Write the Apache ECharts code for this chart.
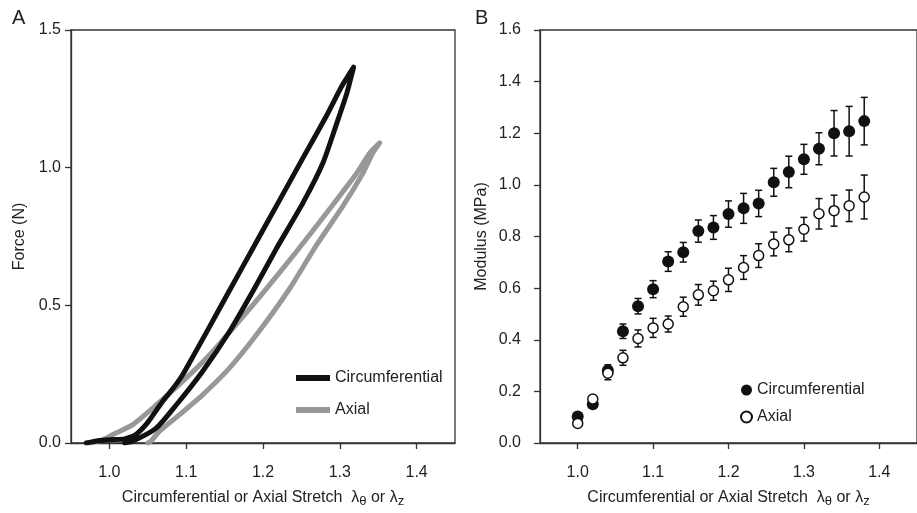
<!DOCTYPE html>
<html>
<head>
<meta charset="utf-8">
<script src="https://cdn.jsdelivr.net/npm/echarts@6/dist/echarts.min.js"></script>
<style>
  html, body { margin: 0; padding: 0; background: #fff; }
  #chart { width: 917px; height: 513px; }
</style>
</head>
<body>
<div id="chart"></div>
<script>
// Panel A: force vs stretch loops, [stretch, force]
const circLoop = [
  [0.970, 0.0], [0.985, 0.008], [1.000, 0.012], [1.020, 0.015], [1.034, 0.030],
  [1.050, 0.075], [1.069, 0.150], [1.082, 0.195], [1.095, 0.246], [1.110, 0.320],
  [1.126, 0.400], [1.158, 0.562], [1.191, 0.728], [1.222, 0.884],
  [1.253, 1.040], [1.282, 1.185], [1.302, 1.293], [1.318, 1.365],
  [1.309, 1.269], [1.296, 1.161], [1.278, 1.017], [1.252, 0.872], [1.217, 0.704],
  [1.189, 0.562], [1.156, 0.403], [1.121, 0.259], [1.087, 0.138], [1.061, 0.054],
  [1.030, 0.006], [1.020, 0.0]
];
const axialLoop = [
  [0.974, 0.0], [0.990, 0.010], [1.004, 0.030], [1.030, 0.066], [1.061, 0.138],
  [1.095, 0.223], [1.130, 0.319], [1.165, 0.430], [1.200, 0.545], [1.245, 0.700],
  [1.290, 0.862], [1.322, 0.980], [1.339, 1.053], [1.352, 1.090],
  [1.343, 1.053], [1.330, 0.980], [1.304, 0.860], [1.269, 0.716], [1.235, 0.562],
  [1.191, 0.391], [1.156, 0.271], [1.121, 0.174], [1.091, 0.102], [1.065, 0.042],
  [1.054, 0.006], [1.050, 0.0]
];

// Panel B: modulus (MPa) with error bars
const stretch = [1.00, 1.02, 1.04, 1.06, 1.08, 1.10, 1.12, 1.14, 1.16, 1.18,
                 1.20, 1.22, 1.24, 1.26, 1.28, 1.30, 1.32, 1.34, 1.36, 1.38];
const circModulus = [0.103, 0.150, 0.281, 0.433, 0.530, 0.596, 0.703, 0.739, 0.821, 0.835,
                     0.887, 0.909, 0.928, 1.010, 1.050, 1.099, 1.140, 1.200, 1.208, 1.247];
const circErr = [0.012, 0.012, 0.022, 0.028, 0.030, 0.033, 0.038, 0.038, 0.043, 0.046,
                 0.051, 0.058, 0.051, 0.054, 0.061, 0.058, 0.062, 0.088, 0.096, 0.092];
const axialModulus = [0.076, 0.170, 0.270, 0.330, 0.405, 0.446, 0.461, 0.528, 0.574, 0.590,
                      0.632, 0.680, 0.726, 0.771, 0.787, 0.828, 0.888, 0.900, 0.919, 0.953];
const axialErr = [0.010, 0.010, 0.025, 0.029, 0.033, 0.037, 0.031, 0.037, 0.040, 0.037,
                  0.045, 0.046, 0.046, 0.046, 0.046, 0.046, 0.059, 0.060, 0.061, 0.085];

const xTicks = [1.0, 1.1, 1.2, 1.3, 1.4];

const FONT = 'Liberation Sans, Arial, sans-serif';
const INK = '#222';
const AXIS = '#333';

const chart = echarts.init(document.getElementById('chart'));

const fmt = v => v.toFixed(1);

const stretchName = '{t|Circumferential or Axial Stretch  λ}{s|θ}{t| or λ}{s|z}';
const stretchNameStyle = {
  rich: {
    t: { fontFamily: FONT, fontSize: 16, lineHeight: 20, color: INK },
    s: { fontFamily: FONT, fontSize: 13, lineHeight: 10, verticalAlign: 'bottom', color: INK }
  }
};

function xAxisFor(gridIndex) {
  return {
    type: 'value',
    gridIndex,
    min: 0.95,
    max: 1.45,
    name: stretchName,
    nameLocation: 'middle',
    nameGap: 45,
    nameTextStyle: stretchNameStyle,
    axisLine: { lineStyle: { color: AXIS, width: 1.3 } },
    axisTick: { length: 6, customValues: xTicks, lineStyle: { color: AXIS, width: 1.3 } },
    axisLabel: { customValues: xTicks, formatter: fmt, margin: 22, fontFamily: FONT, fontSize: 16, color: INK },
    splitLine: { show: false }
  };
}

function yAxisFor(gridIndex, max, interval, name, nameGap, margin) {
  return {
    type: 'value',
    gridIndex,
    min: 0,
    max,
    interval,
    name,
    nameLocation: 'middle',
    nameGap,
    nameTextStyle: { fontFamily: FONT, fontSize: 16, color: INK },
    axisLine: { show: true, lineStyle: { color: AXIS, width: 1.3 } },
    axisTick: { show: true, length: 6, lineStyle: { color: AXIS, width: 1.3 } },
    axisLabel: { formatter: fmt, margin, fontFamily: FONT, fontSize: 16, color: INK },
    splitLine: { show: false }
  };
}

const errorBar = (x, lo, hi) => [x, lo, hi];
const circBars = stretch.map((x, i) => errorBar(x, circModulus[i] - circErr[i], circModulus[i] + circErr[i]));
const axialBars = stretch.map((x, i) => errorBar(x, axialModulus[i] - axialErr[i], axialModulus[i] + axialErr[i]));

function renderErrorBar(params, api) {
  const x = api.value(0);
  const lo = api.coord([x, api.value(1)]);
  const hi = api.coord([x, api.value(2)]);
  const cap = 3.5;
  const style = { stroke: '#111', lineWidth: 1.5 };
  return {
    type: 'group',
    children: [
      { type: 'line', shape: { x1: lo[0], y1: lo[1], x2: hi[0], y2: hi[1] }, style },
      { type: 'line', shape: { x1: hi[0] - cap, y1: hi[1], x2: hi[0] + cap, y2: hi[1] }, style },
      { type: 'line', shape: { x1: lo[0] - cap, y1: lo[1], x2: lo[0] + cap, y2: lo[1] }, style }
    ]
  };
}

const option = {
  animation: false,
  backgroundColor: '#fff',
  title: [
    { text: 'A', left: 7, top: 3, textStyle: { fontFamily: FONT, fontSize: 20, fontWeight: 'normal', color: INK } },
    { text: 'B', left: 470, top: 3, textStyle: { fontFamily: FONT, fontSize: 20, fontWeight: 'normal', color: INK } }
  ],
  grid: [
    { left: 71, top: 30, right: 462, bottom: 67, show: true, borderColor: AXIS, borderWidth: 1.3 },
    { left: 540, top: 30, right: -4, bottom: 67, show: true, borderColor: AXIS, borderWidth: 1.3 }
  ],
  legend: [
    {
      data: ['Circumferential', 'Axial'],
      orient: 'vertical',
      left: 296,
      top: 370,
      padding: 0,
      icon: 'rect',
      itemWidth: 34,
      itemHeight: 6,
      itemGap: 16,
      itemTextGap: 5,
      selectedMode: false,
      textStyle: { fontFamily: FONT, fontSize: 16, color: INK }
    },
    {
      data: ['Circumferential modulus', 'Axial modulus'],
      orient: 'vertical',
      left: 740,
      top: 382,
      padding: 0,
      icon: 'circle',
      itemWidth: 11,
      itemHeight: 11,
      itemGap: 11,
      itemTextGap: 6,
      selectedMode: false,
      formatter: name => name.replace(' modulus', ''),
      textStyle: { fontFamily: FONT, fontSize: 16, color: INK }
    }
  ],
  xAxis: [xAxisFor(0), xAxisFor(1)],
  yAxis: [
    yAxisFor(0, 1.5, 0.5, 'Force (N)', 43, 10),
    yAxisFor(1, 1.6, 0.2, 'Modulus (MPa)', 50, 19)
  ],
  series: [
    {
      name: 'Axial',
      type: 'line',
      xAxisIndex: 0,
      yAxisIndex: 0,
      data: axialLoop,
      showSymbol: false,
      smooth: 0.2,
      color: '#989898',
      lineStyle: { color: '#989898', width: 5, join: 'round', cap: 'round' },
      z: 2
    },
    {
      name: 'Circumferential',
      type: 'line',
      xAxisIndex: 0,
      yAxisIndex: 0,
      data: circLoop,
      showSymbol: false,
      smooth: 0.2,
      color: '#111',
      lineStyle: { color: '#111', width: 5, join: 'round', cap: 'round' },
      z: 3
    },
    {
      type: 'custom',
      xAxisIndex: 1,
      yAxisIndex: 1,
      renderItem: renderErrorBar,
      encode: { x: 0, y: [1, 2] },
      data: circBars,
      z: 2
    },
    {
      type: 'custom',
      xAxisIndex: 1,
      yAxisIndex: 1,
      renderItem: renderErrorBar,
      encode: { x: 0, y: [1, 2] },
      data: axialBars,
      z: 2
    },
    {
      name: 'Circumferential modulus',
      type: 'scatter',
      xAxisIndex: 1,
      yAxisIndex: 1,
      data: stretch.map((x, i) => [x, circModulus[i]]),
      symbol: 'circle',
      symbolSize: 12,
      itemStyle: { color: '#111', borderColor: '#111', borderWidth: 0, opacity: 1 },
      z: 3
    },
    {
      name: 'Axial modulus',
      type: 'scatter',
      xAxisIndex: 1,
      yAxisIndex: 1,
      data: stretch.map((x, i) => [x, axialModulus[i]]),
      symbol: 'circle',
      symbolSize: 10,
      itemStyle: { color: '#fff', borderColor: '#111', borderWidth: 1.5, opacity: 1 },
      z: 4
    }
  ]
};

chart.setOption(option);
</script>
</body>
</html>
